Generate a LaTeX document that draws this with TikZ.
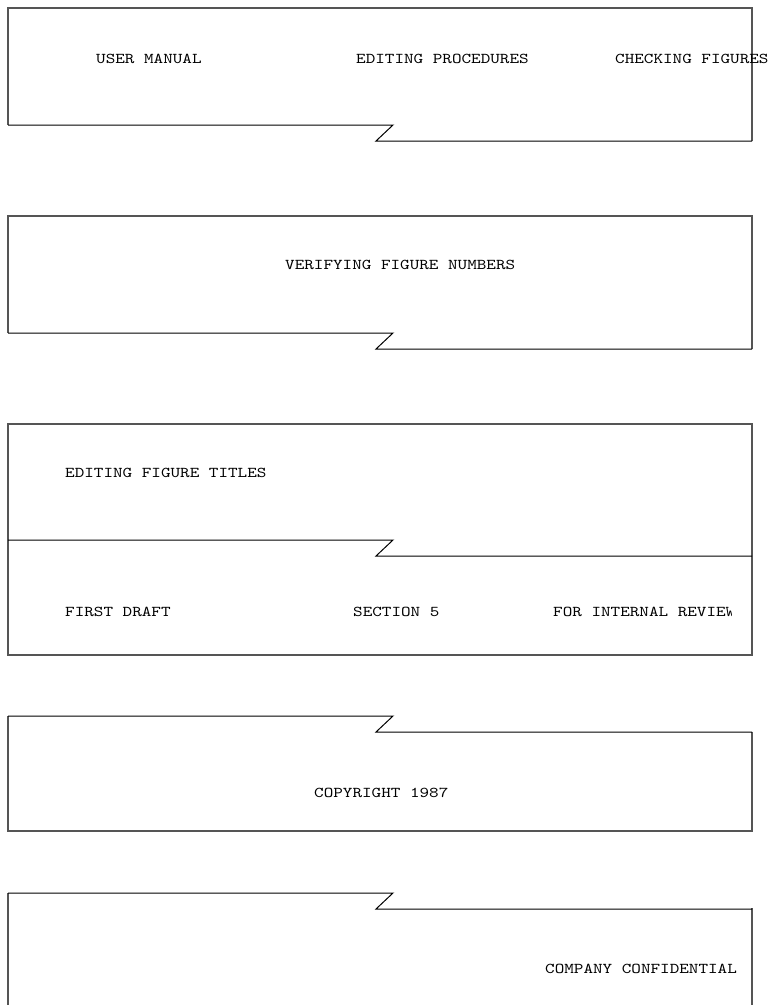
\documentclass[tikz,border=0pt]{standalone}
\usepackage{fontspec}
\newfontfamily\typewriter[FakeStretch=1.217]{lmmono10-regular.otf}
\definecolor{framegray}{RGB}{85,85,85}
\begin{document}
\begin{tikzpicture}[x=1pt,y=-1pt,
  frame/.style={draw=framegray, line width=1.6pt},
  tear/.style={draw=black, line width=1pt},
  tag/.style={anchor=base west, inner sep=0pt,
    font=\typewriter\fontsize{15}{15}\selectfont},
  torn/.pic={\draw[tear] (8,0) -- (393,0) -- (376,16) -- (752,16);}]
\useasboundingbox (0,0) rectangle (773,1005);

% panel 1
\draw[frame] (8,125) -- (8,8) -- (752,8) -- (752,141);
\pic at (0,125) {torn};
\node[tag] (manual) at (96,63) {USER MANUAL};
\node[tag] (procedures) at (356,63) {EDITING PROCEDURES};
\node[tag] (checking) at (615,63) {CHECKING FIGURES};

% panel 2
\draw[frame] (8,333) -- (8,216) -- (752,216) -- (752,349);
\pic at (0,333) {torn};
\node[tag] (verifying) at (285,269) {VERIFYING FIGURE NUMBERS};

% panel 3 (two parts separated by the torn edge)
\draw[frame] (8,424) rectangle (752,655);
\pic at (0,540) {torn};
\node[tag] (titles) at (65,477) {EDITING FIGURE TITLES};
\node[tag] (draft) at (65,616) {FIRST DRAFT};
\node[tag] (section) at (353,616) {SECTION 5};
\begin{scope}
  \clip (540,590) rectangle (731,630);
  \node[tag] (review) at (553,616) {FOR INTERNAL REVIEW};
\end{scope}

% panel 4
\draw[frame] (8,716) -- (8,831) -- (752,831) -- (752,732);
\pic at (0,716) {torn};
\node[tag] (copyright) at (314,797) {COPYRIGHT 1987};

% panel 5
\draw[frame] (8,893) -- (8,1010);
\draw[frame] (752,908) -- (752,1010);
\pic at (0,893) {torn};
\node[tag] (confidential) at (545,973) {COMPANY CONFIDENTIAL};
\end{tikzpicture}
\end{document}
